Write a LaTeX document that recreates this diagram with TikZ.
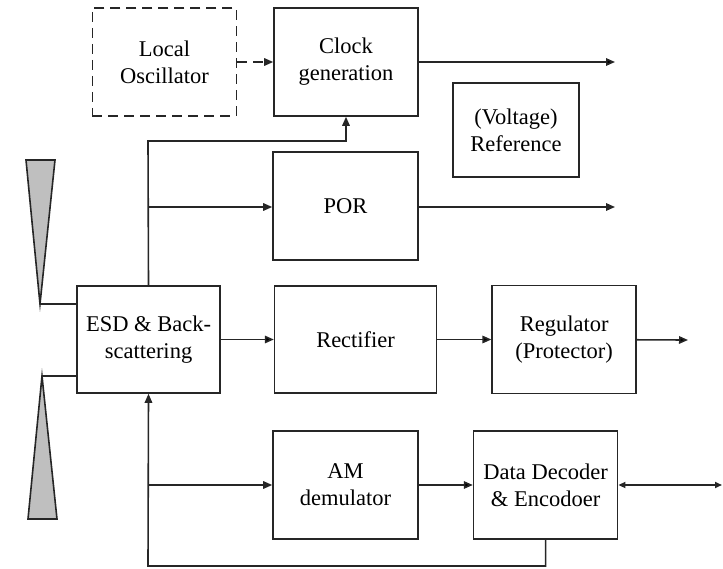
\documentclass[tikz,border=0pt]{standalone}
\usepackage{fontspec}
\setmainfont{Liberation Serif}
\tikzstyle{block}=[rectangle,draw=black!85,line width=1.6pt,minimum width=144pt,
minimum height=108pt,align=center,inner sep=0pt]
\tikzstyle{dblock}=[block,dash pattern=on 10pt off 6pt]
\tikzstyle{antenna}=[draw=black!85,line width=1.6pt,fill=black!25]
\tikzstyle{wire}=[draw=black!85,line width=1.6pt]
\tikzstyle{sig}=[wire,-{Triangle[length=9pt,width=7.5pt]}]
\usetikzlibrary{arrows.meta,positioning}

\begin{document}
\begin{tikzpicture}[x=1pt,y=-1pt,font=\fontsize{22.5}{27}\selectfont]
            \useasboundingbox (0,0) rectangle (723,569);

            % POWER PART

            \node[block,minimum width=143pt,minimum height=107pt] (esd) at (148.5,339.5) {ESD \& Back-\\scattering};
            \node[block,minimum width=162pt,minimum height=107pt,right=53pt of esd] (rec) {Rectifier};
            \node[block,right=54pt of rec] (reg) {Regulator\\(Protector)};
            \coordinate (regout) at (688,340);

            \path[sig] (esd) edge (rec);
            \path[sig] (rec) edge (reg);
            \path[sig] (reg) edge (regout);

            % ANTENNA PART

            \draw[antenna] (26,160) -- (55,160) -- (40,304) coordinate (a1) -- cycle;
            \draw[antenna] (28,519) -- (57,519) -- (42,376) coordinate (a2) -- cycle;
            \draw[wire] (a1) -- (a1 -| esd.west);
            \draw[wire] (a2) -- (a2 -| esd.west);

            % CLOCK PART

            \node[block] (clk) at (346,62) {Clock\\generation};
            \node[dblock,left=36pt of clk] (osc) {Local\\Oscillator};
            \node[block,minimum width=126pt,minimum height=94pt] (ref) at (516,130) {(Voltage)\\Reference};
            \node[block,minimum width=145pt] (por) at (345.5,206) {POR};
            \coordinate (clkout) at (615,62);
            \coordinate (porout) at (615,207);
            \coordinate (br) at (148,141);

            \draw[sig,dash pattern=on 10pt off 6pt] (osc) -- (clk);
            \path[sig] (clk) edge (clkout);
            \draw[sig] (esd.north) -- (br) -| (clk.south);
            \draw[sig] (br |- porout) -- (por.west |- porout);
            \draw[sig] (por.east |- porout) -- (porout);

            % DATA PART

            \node[block,minimum width=145pt] (dem) at (345.5,485) {AM\\demulator};
            \node[block,right=54pt of dem] (dec) {Data Decoder\\\& Encodoer};
            \coordinate (io) at (722,485);
            \coordinate (fb) at (148,566);

            \path[sig] (dem) edge (dec);
            \draw[wire,{Triangle[length=7pt,width=6pt]}-{Triangle[length=7pt,width=6pt]}] (dec) -- (io);
            \draw[sig] (dec.south) |- (fb) -- (esd.south);
            \draw[sig] (fb |- dem.west) -- (dem.west);

        \end{tikzpicture}
\end{document}
